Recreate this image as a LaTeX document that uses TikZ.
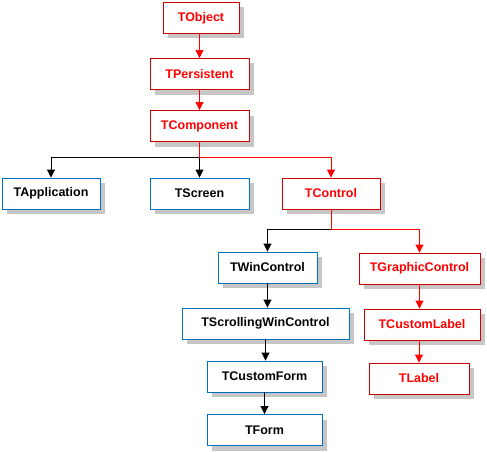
\documentclass[tikz,border=0pt]{standalone}
\usepackage{fontspec}
\setmainfont{Liberation Sans}
\usetikzlibrary{arrows.meta,shadows}
\definecolor{boxred}{RGB}{204,0,0}
\definecolor{txtred}{RGB}{255,0,0}
\definecolor{boxblue}{RGB}{0,112,192}
\definecolor{shade}{RGB}{198,198,198}
\tikzset{
  cls/.style={draw, fill=white, line width=0.9pt, minimum height=31pt, inner sep=0pt,
    font=\fontsize{12.5pt}{14pt}\selectfont\bfseries,
    drop shadow={shadow xshift=5pt, shadow yshift=-5pt, fill=shade, opacity=1}},
  redbox/.style={cls, draw=boxred, text=txtred},
  bluebox/.style={cls, draw=boxblue, text=black},
  redarr/.style={draw=txtred, line width=0.9pt, -{Triangle[length=8pt,width=8pt]}, color=txtred},
  blkarr/.style={draw=black, line width=0.9pt, -{Triangle[length=8pt,width=8pt]}},
}
\begin{document}
\begin{tikzpicture}[x=1pt,y=-1pt]
\useasboundingbox (0,0) rectangle (487,452);
\node[redbox, minimum width=76pt] (obj) at (201,18) {TObject};
\node[redbox, minimum width=99pt] (pers) at (199.5,74) {TPersistent};
\node[redbox, minimum width=99pt] (comp) at (199.5,126) {TComponent};
\node[bluebox, minimum width=98pt] (app) at (51,193.5) {TApplication};
\node[bluebox, minimum width=99pt] (scr) at (199.5,193.5) {TScreen};
\node[redbox, minimum width=98pt] (ctl) at (331,193.5) {TControl};
\node[bluebox, minimum width=99pt] (win) at (267.5,267.5) {TWinControl};
\node[redbox, minimum width=121pt] (gfx) at (419.5,268.5) {TGraphicControl};
\node[bluebox, minimum width=167pt] (scw) at (265.5,323.5) {TScrollingWinControl};
\node[redbox, minimum width=116pt] (clb) at (422,324.5) {TCustomLabel};
\node[bluebox, minimum width=115pt] (cfm) at (264.5,376.5) {TCustomForm};
\node[redbox, minimum width=100pt] (lbl) at (419,378.5) {TLabel};
\node[bluebox, minimum width=115pt] (frm) at (264.5,430) {TForm};
\coordinate (j1) at (199.5,157);
\coordinate (j2) at (331,229);
% red chain
\draw[redarr] (obj.south -| pers.north) -- (pers.north);
\draw[redarr] (pers.south) -- (comp.north);
% component branches
\draw[blkarr] (j1) -| (app.north);
\draw[blkarr] (j1) -- (scr.north);
\draw[redarr] (comp.south) -- (j1) -| (ctl.north);
% control branches
\draw[blkarr] (j2) -| (win.north);
\draw[redarr] (ctl.south) -- (j2) -| (gfx.north);
% blue chain
\draw[blkarr] (win.south) -- (win.south |- scw.north);
\draw[blkarr] (scw.south) -- (scw.south |- cfm.north);
\draw[blkarr] (cfm.south) -- (frm.north);
% red right chain
\draw[redarr] (gfx.south) -- (gfx.south |- clb.north);
\draw[redarr] (lbl.north |- clb.south) -- (lbl.north);
\end{tikzpicture}
\end{document}
